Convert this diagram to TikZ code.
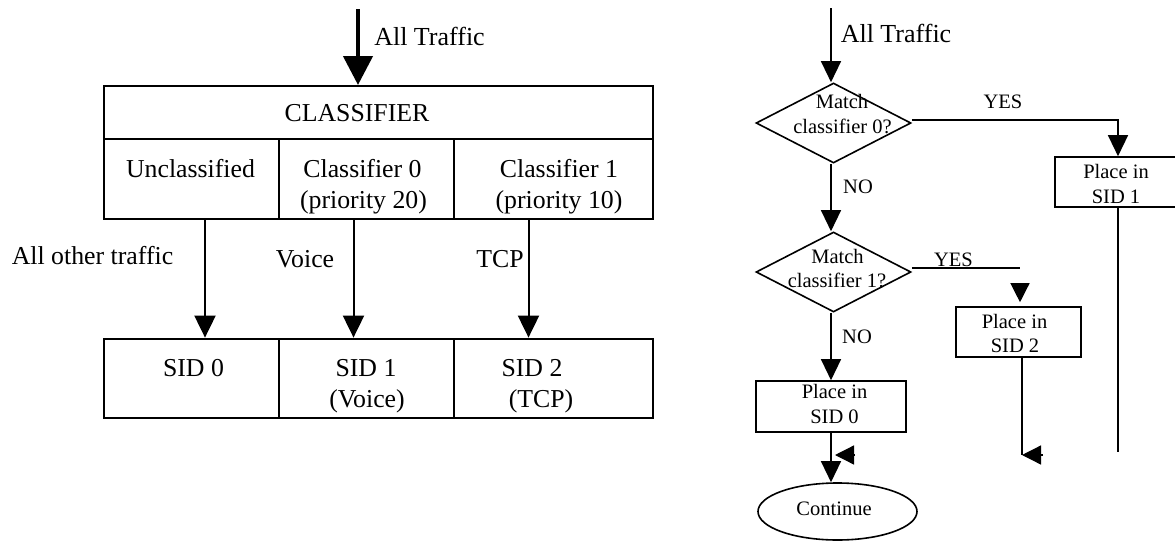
\documentclass[tikz,border=0pt]{standalone}
\usepackage{fontspec}
\setmainfont{Liberation Serif}
\usetikzlibrary{arrows.meta,shapes.geometric}
\tikzset{
  lcell/.style={draw, line width=2pt, rectangle, inner sep=0pt, minimum height=#1},
  ltxt/.style={font=\fontsize{25.8}{31}\selectfont, inner sep=0pt, anchor=base},
  rtxt/.style={font=\fontsize{20.5}{24}\selectfont, inner sep=0pt, anchor=base},
  bigtxt/.style={font=\fontsize{26}{31}\selectfont, inner sep=0pt, anchor=base},
  larr/.style={line width=2pt, -{Triangle[length=22pt,width=21pt]}},
  tarr/.style={line width=4.5pt, -{Triangle[length=29pt,width=29pt]}},
  rline/.style={line width=1.3pt},
  rarr/.style={line width=1.3pt, -{Triangle[length=21pt,width=20pt]}},
  sarr/.style={line width=1.3pt, -{Triangle[length=19pt,width=19pt]}},
  rbox/.style={draw, line width=1.6pt, rectangle, inner sep=0pt},
  rdia/.style={draw, line width=1.6pt, diamond, inner sep=0pt, minimum width=155pt, minimum height=80pt},
}
\begin{document}
\begin{tikzpicture}[x=1pt,y=-1pt]
\useasboundingbox (0,0) rectangle (1175,541);

% ---------------- left diagram ----------------
\node[lcell=53pt, minimum width=549pt] (hdr) at (378.5,112.5) {};
\node[lcell=80pt, minimum width=175pt] (unc) at (191.5,179) {};
\node[lcell=80pt, minimum width=175pt] (cl0) at (366.5,179) {};
\node[lcell=80pt, minimum width=199pt] (cl1) at (553.5,179) {};
\node[lcell=79.4pt, minimum width=175pt] (sid0) at (191.5,378.3) {};
\node[lcell=79.4pt, minimum width=175pt] (sid1) at (366.5,378.3) {};
\node[lcell=79.4pt, minimum width=199pt] (sid2) at (553.5,378.3) {};

\node[ltxt] (thdr) at (357,121) {CLASSIFIER};
\node[ltxt] (tunc) at (190.5,177) {Unclassified};
\node[ltxt] (tcl0a) at (362.5,177) {Classifier 0};
\node[ltxt] (tcl0b) at (363.5,208) {(priority 20)};
\node[ltxt] (tcl1a) at (559,177) {Classifier 1};
\node[ltxt] (tcl1b) at (559,208) {(priority 10)};
\node[ltxt] (tsid0) at (193.5,376) {SID 0};
\node[ltxt] (tsid1a) at (366,376) {SID 1};
\node[ltxt] (tsid1b) at (367,407) {(Voice)};
\node[ltxt] (tsid2a) at (532,376) {SID 2};
\node[ltxt] (tsid2b) at (541,407) {(TCP)};

\coordinate (tin) at (358,9);
\draw[tarr] (tin) -- (tin |- hdr.north);
\node[bigtxt] (lall) at (429.5,45) {All Traffic};

\draw[larr] ([xshift=13.5pt]unc.south) -- ([xshift=13.5pt]sid0.north);
\draw[larr] ([xshift=-13pt]cl0.south) -- ([xshift=-13pt]sid1.north);
\draw[larr] ([xshift=-25pt]cl1.south) -- ([xshift=-25pt]sid2.north);

\node[ltxt] (lother) at (92.5,264) {All other traffic};
\node[ltxt] (lvoice) at (305,267) {Voice};
\node[ltxt] (ltcp) at (500,267) {TCP};

% ---------------- right diagram ----------------
\node[rdia] (d1) at (833.5,123) {};
\node[rdia] (d2) at (833.5,272) {};
\node[rbox, minimum width=126pt, minimum height=50pt] (s1) at (1118,182) {};
\node[rbox, minimum width=125pt, minimum height=50pt] (s2) at (1018.5,332) {};
\node[rbox, minimum width=150pt, minimum height=51pt] (s0) at (831,406.5) {};
\node[draw, line width=1.6pt, ellipse, inner sep=0pt, minimum width=159pt, minimum height=57pt] (cont) at (837.5,511.5) {};

\node[rtxt] (td1a) at (842,108) {Match};
\node[rtxt] (td1b) at (842.5,133) {classifier 0?};
\node[rtxt] (td2a) at (837.5,263) {Match};
\node[rtxt] (td2b) at (837,287) {classifier 1?};
\node[rtxt] (ts1a) at (1116,178) {Place in};
\node[rtxt] (ts1b) at (1116,203) {SID 1};
\node[rtxt] (ts2a) at (1014.5,328) {Place in};
\node[rtxt] (ts2b) at (1015,352) {SID 2};
\node[rtxt] (ts0a) at (834.5,398) {Place in};
\node[rtxt] (ts0b) at (834.5,423) {SID 0};
\node[rtxt] (tcont) at (834,515) {Continue};

\coordinate (rin) at (831,8);
\draw[rarr] (rin) -- (rin |- d1.north);
\node[bigtxt] (rall) at (896,42) {All Traffic};

\draw[rarr] ([yshift=3pt]d1.east) -| (s1.north);
\node[rtxt] (yes1) at (1003,108) {YES};
\coordinate (s1end) at (1118,452);
\draw[rline] (s1.south) -- (s1end);

\draw[rarr] (d1.south -| rin) -- (d2.north -| rin);
\node[rtxt] (no1) at (858,193) {NO};

\coordinate (y2end) at (1020,268);
\draw[rline] ([yshift=4pt]d2.east) -- (y2end);
\node[rtxt] (yes2) at (953.5,266) {YES};
\coordinate (fa) at (1020,285);
\draw[sarr] (fa) -- ([yshift=4pt]s2.north -| fa);

\coordinate (s2e) at (1022,455);
\coordinate (s2h) at (1043,455);
\draw[rline] (s2.south -| s2e) -- (s2e);
\draw[sarr] (s2h) -- (s2e);

\draw[rarr] (d2.south -| rin) -- (s0.north -| rin);
\node[rtxt] (no2) at (857,343) {NO};

\draw[rarr] (s0.south) -- (s0.south |- cont.north);
\coordinate (s0h) at (855,455);
\coordinate (s0t) at (835,455);
\draw[sarr] (s0h) -- (s0t);
\end{tikzpicture}
\end{document}
